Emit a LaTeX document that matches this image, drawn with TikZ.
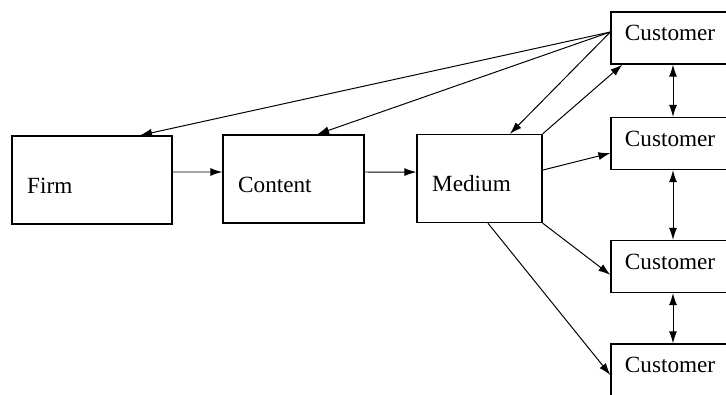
\documentclass[tikz,border=0pt]{standalone}
\usepackage{fontspec}
\setmainfont{Liberation Serif}
\usetikzlibrary{arrows.meta, positioning}

\begin{document}
\begin{tikzpicture}[
    x=0.025cm, y=-0.025cm,
    box/.style={draw, line width=0.9pt, align=left, inner xsep=0.38cm,
                minimum height=2.2cm, font=\fontsize{16.5}{20}\selectfont,
                execute at begin node={\rule{0pt}{0.66cm}}},
    cust/.style={draw, line width=0.9pt, align=left, inner xsep=0.35cm,
                 minimum height=1.3cm, text width=2.4cm,
                 font=\fontsize{16.5}{20}\selectfont,
                 text height=0.7em, text depth=0.3em},
    arr/.style={-{Latex[length=3mm, width=2mm]}, line width=0.7pt},
    dbl/.style={{Latex[length=3mm, width=2mm]}-{Latex[length=3mm, width=2mm]}, line width=0.7pt}
]
\useasboundingbox (0,0) rectangle (726,395);
\clip (0,0) rectangle (726,395);

% main chain
\node[box, text width=3.24cm]   (firm)    at (92,180)    {Firm};
\node[box, text width=2.765cm]  (content) at (293.5,179) {Content};
\node[box, text width=2.365cm]  (medium)  at (479.5,178.5) {Medium};

% customers (cut off at the right edge)
\node[cust] (cust1) at (673,38)    {Customer};
\node[cust] (cust2) at (673,143.5) {Customer};
\node[cust] (cust3) at (673,266.5) {Customer};
\node[cust] (cust4) at (673,370)   {Customer};

\draw[arr] ([yshift=2mm]firm.east) -- ([yshift=1.75mm]content.west);
\draw[arr] ([yshift=1.75mm]content.west -| content.east) -- ([yshift=1.6mm]medium.west);

% feedback from the first customer
\draw[arr] ([yshift=1.5mm]cust1.west) -- ([xshift=1.2cm]firm.north);
\draw[arr] ([yshift=1.5mm]cust1.west) -- ([xshift=0.59cm]content.north);
\draw[arr] ([yshift=1.5mm]cust1.west) -- ([xshift=0.76cm]medium.north);

% medium to customers
\draw[arr] (medium.north east) -- ([xshift=0.3cm]cust1.south west);
\draw[arr] ([yshift=2.1mm]medium.east) -- ([yshift=-2.4mm]cust2.west);
\draw[arr] (medium.south east) -- ([yshift=-2.1mm]cust3.west);
\draw[arr] ([xshift=2.1mm]medium.south) -- ([yshift=-1.25mm]cust4.west);

% between customers
\foreach \a/\b in {cust1/cust2, cust2/cust3, cust3/cust4}
  \draw[dbl] (\a) -- (\b);
\end{tikzpicture}
\end{document}
